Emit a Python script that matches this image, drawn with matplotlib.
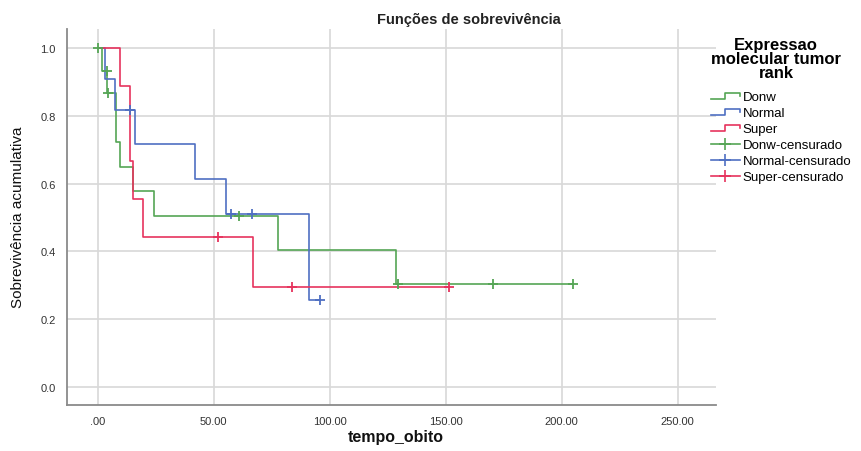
import numpy as np
import matplotlib
matplotlib.use("Agg")
import matplotlib.pyplot as plt
from matplotlib.lines import Line2D
from matplotlib.legend_handler import HandlerBase

plt.rcParams['font.family'] = ['Liberation Sans', 'DejaVu Sans']

# Kaplan-Meier step curves (time, cumulative survival) per group
donw_t = [0, 1.6, 4.0, 7.8, 9.6, 15.1, 24.4, 77.8, 128.6, 205.0]
donw_s = [1.0, 0.933, 0.867, 0.722, 0.650, 0.578, 0.506, 0.404, 0.303, 0.303]
donw_cens_t = [0, 3.8, 4.6, 61.0, 129.4, 170.4, 205.0]
donw_cens_s = [1.0, 0.933, 0.867, 0.506, 0.303, 0.303, 0.303]

normal_t = [0, 3.0, 7.3, 16.1, 41.9, 55.2, 91.0, 95.8]
normal_s = [1.0, 0.909, 0.818, 0.716, 0.614, 0.511, 0.256, 0.256]
normal_cens_t = [13.9, 57.3, 66.4, 95.8]
normal_cens_s = [0.818, 0.511, 0.511, 0.256]

super_t = [0, 9.6, 13.9, 15.3, 19.7, 66.8, 151.4]
super_s = [1.0, 0.889, 0.667, 0.556, 0.444, 0.296, 0.296]
super_cens_t = [52.0, 83.9, 151.4]
super_cens_s = [0.444, 0.296, 0.296]

groups = ['Donw', 'Normal', 'Super']
colors = ['#55a555', '#4f6fc2', '#e6335d']

x_ticks = [0, 50, 100, 150, 200, 250]
x_ticklabels = ['.00', '50.00', '100.00', '150.00', '200.00', '250.00']
y_ticks = [0.0, 0.2, 0.4, 0.6, 0.8, 1.0]


class StepHandler(HandlerBase):
    # little step glyph used by the legend for the survival lines
    def create_artists(self, legend, orig_handle, xdescent, ydescent,
                       width, height, fontsize, trans):
        x0 = -xdescent
        x1 = x0 + width
        xm = x0 + width * 0.5
        ylo = -ydescent + height * 0.1
        yhi = -ydescent + height * 0.8
        line = Line2D([x0, xm, xm, x1, x1],
                      [ylo, ylo, yhi, yhi, ylo + (yhi - ylo) * 0.45],
                      color=orig_handle.get_color(),
                      lw=orig_handle.get_linewidth())
        line.set_transform(trans)
        return [line]


fig = plt.figure(figsize=(8.61, 4.52), dpi=100)
ax = fig.add_axes([0.0775, 0.102, 0.754, 0.832])

curves = [(donw_t, donw_s, donw_cens_t, donw_cens_s),
          (normal_t, normal_s, normal_cens_t, normal_cens_s),
          (super_t, super_s, super_cens_t, super_cens_s)]

step_handles = []
cens_handles = []
for (t, s, ct, cs), name, c in zip(curves, groups, colors):
    ln, = ax.step(t, s, where='post', color=c, lw=1.2, zorder=3)
    ax.plot(ct, cs, linestyle='None', marker='+', markersize=7,
            mew=1.3, color=c, zorder=4)
    step_handles.append(Line2D([], [], color=c, lw=1.2))
    cens_handles.append(Line2D([], [], color=c, lw=1.2, marker='+',
                               markersize=8, mew=1.2))

ax.set_xlim(-13.4, 266.5)
ax.set_ylim(-0.052, 1.056)
ax.set_xticks(x_ticks)
ax.set_xticklabels(x_ticklabels)
ax.set_yticks(y_ticks)
ax.set_yticklabels(['%.1f' % v for v in y_ticks])
ax.tick_params(length=0, labelsize=8, colors='#333333', pad=8)
ax.grid(True, color='#d8d8d8', lw=1.2)
ax.set_axisbelow(True)
for side in ['top', 'right']:
    ax.spines[side].set_visible(False)
for side in ['left', 'bottom']:
    ax.spines[side].set_color('#8a8a8a')
    ax.spines[side].set_linewidth(1.3)

fig.text(0.545, 0.955, 'Funções de sobrevivência', ha='center', va='center',
         fontsize=10.5, fontweight='bold', color='#222222')
fig.text(0.46, 0.033, 'tempo_obito', ha='center', va='center',
         fontsize=11.5, fontweight='bold', color='#111111')
fig.text(0.021, 0.52, 'Sobrevivência acumulativa', ha='center', va='center',
         rotation=90, fontsize=11, color='#111111')

labels = groups + [g + '-censurado' for g in groups]
handler_map = {h: StepHandler() for h in step_handles}
leg = ax.legend(step_handles + cens_handles, labels,
                loc='upper left', bbox_to_anchor=(0.815, 0.937),
                bbox_transform=fig.transFigure, frameon=False,
                handler_map=handler_map,
                title='Expressao\nmolecular tumor\nrank',
                title_fontproperties={'weight': 'bold', 'size': 12},
                fontsize=9.5, handlelength=2.2, handletextpad=0.2,
                labelspacing=0.29, borderpad=0.2)
leg._legend_box.align = 'left'
leg._legend_box.sep = 8
leg.get_title().set_multialignment('center')
leg.get_title().set_linespacing(0.92)

fig.savefig('out.png', dpi=100)
